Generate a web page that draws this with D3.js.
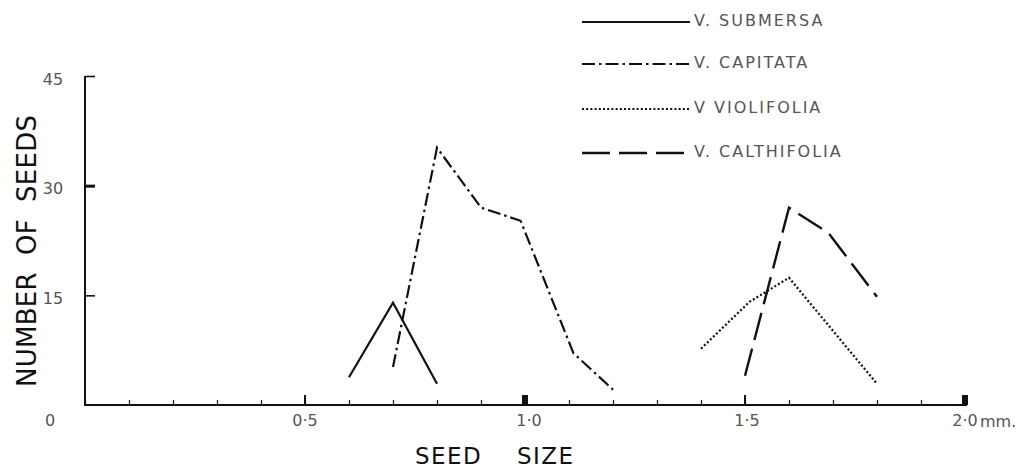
<!DOCTYPE html>
<html>
<head>
<meta charset="utf-8">
<script src="https://cdn.jsdelivr.net/npm/d3@7/dist/d3.min.js"></script>
<style>
  html, body { margin: 0; padding: 0; background: #fff; }
  svg { display: block; }
  .tl { font-family: "DejaVu Sans", sans-serif; font-size: 16px; fill: #555; }
  .lg { font-family: "DejaVu Sans", sans-serif; font-size: 16px; fill: #555; letter-spacing: 2px; }
  .ttl { font-family: "DejaVu Sans", sans-serif; fill: #111; }
</style>
</head>
<body>
<script>
// ---- data ----
const seriesNames = ["V. SUBMERSA", "V. CAPITATA", "V VIOLIFOLIA", "V. CALTHIFOLIA"];
const submersaX = [0.6, 0.7, 0.8];
const submersaY = [3.8, 14.0, 2.9];
const capitataX = [0.7, 0.8, 0.9, 0.99, 1.11, 1.2];
const capitataY = [5.2, 35.2, 27.0, 25.2, 7.1, 2.1];
const violifoliaX = [1.4, 1.51, 1.6, 1.8];
const violifoliaY = [7.7, 14.1, 17.4, 2.9];
const calthifoliaX = [1.5, 1.6, 1.69, 1.8];
const calthifoliaY = [4.0, 27.0, 23.5, 14.8];
const yTickValues = [15, 30, 45];
const yTickLabels = ["15", "30", "45"];
const xTickValues = [0.5, 1.0, 1.5, 2.0];
const xTickLabels = ["0·5", "1·0", "1·5", "2·0"];
const originLabel = "0";
const unitLabel = "mm.";
const xTitle = "SEED    SIZE";
const yTitle = "NUMBER  OF  SEEDS";

// ---- layout ----
const W = 1027, H = 474;
const svg = d3.select("body").append("svg").attr("width", W).attr("height", H);

const x = d3.scaleLinear().domain([0, 2]).range([85, 965]);
const y = d3.scaleLinear().domain([0, 45]).range([405, 76]);

const styles = [
  { dash: null, w: 2.2 },
  { dash: "13,4,2.5,4", w: 2.2 },
  { dash: "2,2.2", w: 2.2 },
  { dash: "28,9", w: 2.4 }
];

// axes
const xAxis = d3.axisBottom(x)
  .tickValues(d3.range(0, 21).map(i => i / 10))
  .tickSize(-5).tickSizeOuter(0).tickFormat("");
const gx = svg.append("g").attr("transform", `translate(0,${y(0)})`).call(xAxis);
gx.select(".domain").attr("stroke", "#111").attr("stroke-width", 2).attr("d", `M${x(0)},0H${x(2) + 2}`);
gx.selectAll(".tick line").attr("stroke", "#222").attr("stroke-width", 1.3);

// major ticks
svg.append("g").selectAll("line").data([0.5, 1.5]).join("line")
  .attr("x1", d => x(d)).attr("x2", d => x(d))
  .attr("y1", y(0)).attr("y2", y(0) - 10)
  .attr("stroke", "#111").attr("stroke-width", 2);
svg.append("g").selectAll("rect").data([1.0, 2.0]).join("rect")
  .attr("x", d => x(d) - 3).attr("width", 6)
  .attr("y", y(0) - 10).attr("height", 10)
  .attr("fill", "#111");

// y axis
const yAxis = d3.axisRight(y).tickValues([15, 30, 45]).tickSize(10).tickSizeOuter(0).tickFormat("");
const gy = svg.append("g").attr("transform", `translate(${x(0)},0)`).call(yAxis);
gy.select(".domain").attr("stroke", "#111").attr("stroke-width", 2).attr("d", `M0,${y(45)}V${y(0) + 1}`);
gy.selectAll(".tick line").attr("stroke", "#111").attr("stroke-width", d => d === 30 ? 3 : 1.6);

// tick labels
svg.append("g").selectAll("text").data(yTickValues).join("text")
  .attr("class", "tl").attr("x", 53).attr("y", d => y(d) + 4)
  .attr("text-anchor", "middle").attr("dominant-baseline", "middle")
  .text((d, i) => yTickLabels[i]);
svg.append("text").attr("class", "tl").attr("x", 50).attr("y", 421)
  .attr("text-anchor", "middle").attr("dominant-baseline", "middle").text(originLabel);
svg.append("g").selectAll("text").data(xTickValues).join("text")
  .attr("class", "tl").attr("x", (d, i) => x(d) + (i === 1 ? 4 : i === 2 ? 2 : 0)).attr("y", 421)
  .attr("text-anchor", "middle").attr("dominant-baseline", "middle")
  .text((d, i) => xTickLabels[i]);
svg.append("text").attr("class", "tl").attr("x", x(2) + 15).attr("y", 422)
  .attr("dominant-baseline", "middle").attr("font-size", 14).text(unitLabel);

// titles
svg.append("text").attr("class", "ttl").attr("font-size", 23)
  .attr("x", 415).attr("y", 457).attr("dominant-baseline", "middle")
  .attr("textLength", 158).attr("lengthAdjust", "spacing")
  .style("white-space", "pre").text(xTitle);
svg.append("text").attr("class", "ttl").attr("font-size", 26)
  .attr("transform", "translate(28,251) rotate(-90)")
  .attr("text-anchor", "middle").attr("dominant-baseline", "middle")
  .attr("textLength", 272).attr("lengthAdjust", "spacing")
  .style("white-space", "pre").text(yTitle);

// series
const series = [
  [submersaX, submersaY],
  [capitataX, capitataY],
  [violifoliaX, violifoliaY],
  [calthifoliaX, calthifoliaY]
];
const line = d3.line().x(d => x(d[0])).y(d => y(d[1]));
series.forEach(([xs, ys], i) => {
  const pts = xs.map((v, j) => [v, ys[j]]);
  svg.append("path").attr("d", line(pts))
    .attr("fill", "none").attr("stroke", "#111")
    .attr("stroke-width", styles[i].w)
    .attr("stroke-dasharray", styles[i].dash)
    .attr("stroke-linejoin", "miter");
});

// legend
const legY = [21, 63, 108, 152];
const lg = svg.append("g");
seriesNames.forEach((name, i) => {
  lg.append("line").attr("x1", 582).attr("x2", 690)
    .attr("y1", legY[i] + 1).attr("y2", legY[i] + 1)
    .attr("stroke", "#111").attr("stroke-width", styles[i].w)
    .attr("stroke-dasharray", styles[i].dash);
  lg.append("text").attr("class", "lg").attr("x", 694).attr("y", legY[i])
    .attr("dominant-baseline", "middle").text(name);
});
</script>
</body>
</html>
